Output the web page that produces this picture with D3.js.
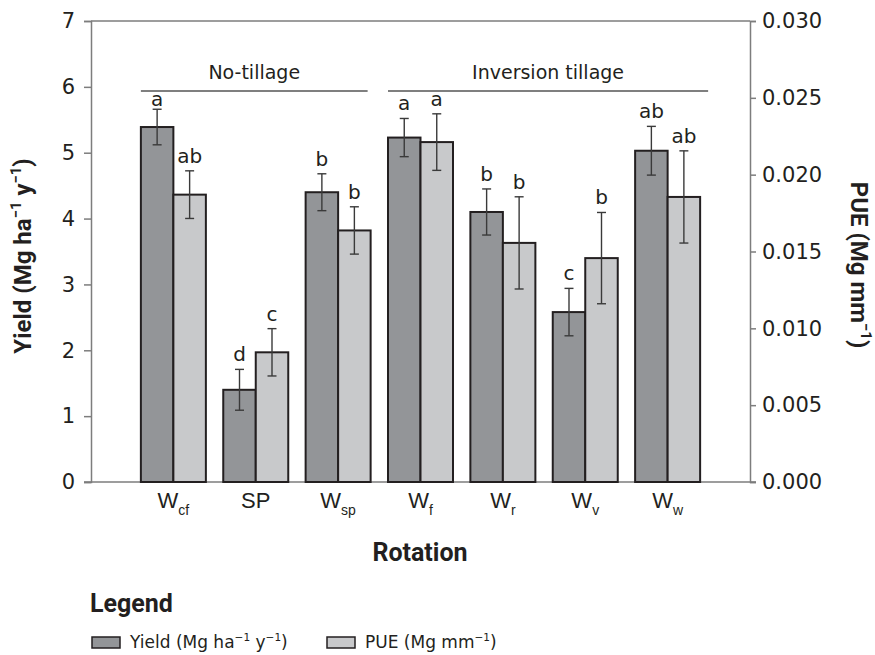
<!DOCTYPE html>
<html><head><meta charset="utf-8">
<script src="https://cdn.jsdelivr.net/npm/d3@7/dist/d3.min.js"></script>
<style>body{margin:0;background:#fff}svg{display:block}</style>
</head><body>
<svg id="c" width="875" height="655"></svg>
<script>
const categories = ["Wcf","SP","Wsp","Wf","Wr","Wv","Ww"];
const catMain = ["W","SP","W","W","W","W","W"];
const catSub = ["cf","","sp","f","r","v","w"];
const yieldVals = [5.39, 1.40, 4.40, 5.23, 4.10, 2.58, 5.03];
const yieldErr  = [0.27, 0.31, 0.28, 0.29, 0.35, 0.36, 0.37];
const pueVals = [0.0187, 0.00844, 0.01637, 0.02212, 0.01556, 0.01457, 0.01855];
const pueErr  = [0.00155, 0.00154, 0.00154, 0.00184, 0.0030, 0.00297, 0.0030];
const yieldLetters = ["a","d","b","a","b","c","ab"];
const pueLetters = ["ab","c","b","a","b","b","ab"];
const yTicks = [0,1,2,3,4,5,6,7];
const pueTicks = [0,0.005,0.010,0.015,0.020,0.025,0.030];
const groups = [{label:"No-tillage", from:"Wcf", to:"Wsp"},{label:"Inversion tillage", from:"Wf", to:"Ww"}];

const svg = d3.select("#c");
const L=91, R=750, T=21, B=482;
const x = d3.scalePoint().domain(categories).range([L,R]).padding(1);
const y = d3.scaleLinear().domain([0,7]).range([B,T]);
const y2 = d3.scaleLinear().domain([0,0.030]).range([B,T]);
const bw = 32.5;
const axisCol = "#7d7d7d";
const numFont = "DejaVu Sans";
const boldFont = "Roboto";

svg.append("line").attr("x1",L).attr("x2",R).attr("y1",T).attr("y2",T).attr("stroke",axisCol).attr("stroke-width",1.5);

const gl = svg.append("g").attr("transform",`translate(${L},0)`)
  .call(d3.axisLeft(y).tickValues(yTicks).tickSize(7).tickPadding(9).tickFormat(d3.format("d")));
gl.select(".domain").attr("stroke",axisCol).attr("stroke-width",1.5);
gl.selectAll(".tick line").attr("stroke",axisCol).attr("stroke-width",1.5);
gl.selectAll(".tick text").attr("font-family",numFont).attr("font-size",21).attr("fill","#231f20");

const gr = svg.append("g").attr("transform",`translate(${R},0)`)
  .call(d3.axisRight(y2).tickValues(pueTicks).tickSize(6).tickPadding(6).tickFormat(d3.format(".3f")));
gr.select(".domain").attr("stroke",axisCol).attr("stroke-width",1.5);
gr.selectAll(".tick line").attr("stroke",axisCol).attr("stroke-width",1.5);
gr.selectAll(".tick text").attr("font-family",numFont).attr("font-size",21).attr("fill","#231f20");

svg.append("line").attr("x1",L-7).attr("x2",R+6).attr("y1",B).attr("y2",B).attr("stroke",axisCol).attr("stroke-width",1.5);

const data = categories.map((c,i)=>({c,i,yv:yieldVals[i],ye:yieldErr[i],pv:pueVals[i],pe:pueErr[i],yl:yieldLetters[i],pl:pueLetters[i]}));
const g = svg.append("g");
g.selectAll("rect.yb").data(data).join("rect")
  .attr("x",d=>x(d.c)-bw).attr("y",d=>y(d.yv)).attr("width",bw).attr("height",d=>B-y(d.yv))
  .attr("fill","#939598").attr("stroke","#231f20").attr("stroke-width",2);
g.selectAll("rect.pb").data(data).join("rect")
  .attr("x",d=>x(d.c)).attr("y",d=>y2(d.pv)).attr("width",bw).attr("height",d=>B-y2(d.pv))
  .attr("fill","#c8c9cb").attr("stroke","#231f20").attr("stroke-width",2);

const errCol="#3a3a3a", cap=4.5;
function errBar(cx, top, bot){
  g.append("line").attr("x1",cx).attr("x2",cx).attr("y1",top).attr("y2",bot).attr("stroke",errCol).attr("stroke-width",1.4);
  g.append("line").attr("x1",cx-cap).attr("x2",cx+cap).attr("y1",top).attr("y2",top).attr("stroke",errCol).attr("stroke-width",1.4);
  g.append("line").attr("x1",cx-cap).attr("x2",cx+cap).attr("y1",bot).attr("y2",bot).attr("stroke",errCol).attr("stroke-width",1.4);
}
const groupLineY = 91;
data.forEach(d=>{
  const cy = x(d.c)-bw/2, cp = x(d.c)+bw/2;
  errBar(cy, y(d.yv+d.ye), y(d.yv-d.ye));
  errBar(cp, y2(d.pv+d.pe), y2(d.pv-d.pe));
  g.append("text").attr("x",cy).attr("y",Math.max(y(d.yv+d.ye)-8, groupLineY+15)).attr("text-anchor","middle")
    .attr("font-family",numFont).attr("font-size",20).attr("fill","#231f20").text(d.yl);
  g.append("text").attr("x",cp).attr("y",Math.max(y2(d.pv+d.pe)-8, groupLineY+15)).attr("text-anchor","middle")
    .attr("font-family",numFont).attr("font-size",20).attr("fill","#231f20").text(d.pl);
});

groups.forEach((gp,k)=>{
  const x0 = x(gp.from)-bw, x1 = x(gp.to)+bw+(k===0?-3:8);
  svg.append("line").attr("x1",x0).attr("x2",x1).attr("y1",groupLineY).attr("y2",groupLineY).attr("stroke","#555").attr("stroke-width",1.3);
  svg.append("text").attr("x",(x0+x1)/2).attr("y",79).attr("text-anchor","middle")
    .attr("font-family",numFont).attr("font-size",19).attr("fill","#231f20").text(gp.label);
});

categories.forEach((c,i)=>{
  const t = svg.append("text").attr("x",x(c)).attr("y",508).attr("text-anchor","middle")
    .attr("font-family","Liberation Sans").attr("font-size",22).attr("fill","#231f20");
  t.append("tspan").text(catMain[i]);
  if(catSub[i]) t.append("tspan").attr("font-size",14).attr("dy",7).text(catSub[i]);
});

function supText(sel, parts, size){
  let raised = false;
  const sh = size*0.42;
  parts.forEach(p=>{
    const ts = sel.append("tspan").text(p.t);
    if(p.sup){ ts.attr("font-size",size*0.62).attr("dy", raised ? 0 : -sh); raised = true; }
    else { ts.attr("font-size",size).attr("dy", raised ? sh : 0); raised = false; }
  });
}
const yt = svg.append("text").attr("transform","translate(31,256) rotate(-90)").attr("text-anchor","middle")
  .attr("font-family",boldFont).attr("font-weight",700).attr("font-size",24).attr("fill","#231f20");
supText(yt,[{t:"Yield (Mg ha"},{t:"\u22121",sup:true},{t:" y"},{t:"\u22121",sup:true},{t:")"}],24);

const pt = svg.append("text").attr("transform","translate(851,265) rotate(90)").attr("text-anchor","middle")
  .attr("font-family",boldFont).attr("font-weight",700).attr("font-size",24).attr("fill","#231f20");
supText(pt,[{t:"PUE (Mg mm"},{t:"\u22121",sup:true},{t:")"}],24);

svg.append("text").attr("x",420).attr("y",561).attr("text-anchor","middle")
  .attr("font-family",boldFont).attr("font-weight",700).attr("font-size",25).attr("fill","#231f20").text("Rotation");

svg.append("text").attr("x",90).attr("y",612).attr("font-family",boldFont).attr("font-weight",700).attr("font-size",25).attr("fill","#231f20").text("Legend");
const legItems = [
  {fill:"#939598", parts:[{t:"Yield (Mg ha"},{t:"\u22121",sup:true},{t:" y"},{t:"\u22121",sup:true},{t:")"}], x:92},
  {fill:"#c8c9cb", parts:[{t:"PUE (Mg mm"},{t:"\u22121",sup:true},{t:")"}], x:327}
];
legItems.forEach(it=>{
  svg.append("rect").attr("x",it.x).attr("y",637).attr("width",28).attr("height",11).attr("fill",it.fill).attr("stroke","#231f20").attr("stroke-width",1.5);
  const t = svg.append("text").attr("x",it.x+38).attr("y",648).attr("font-family",numFont).attr("font-size",17).attr("fill","#231f20");
  supText(t,it.parts,17);
});
</script>
</body></html>
